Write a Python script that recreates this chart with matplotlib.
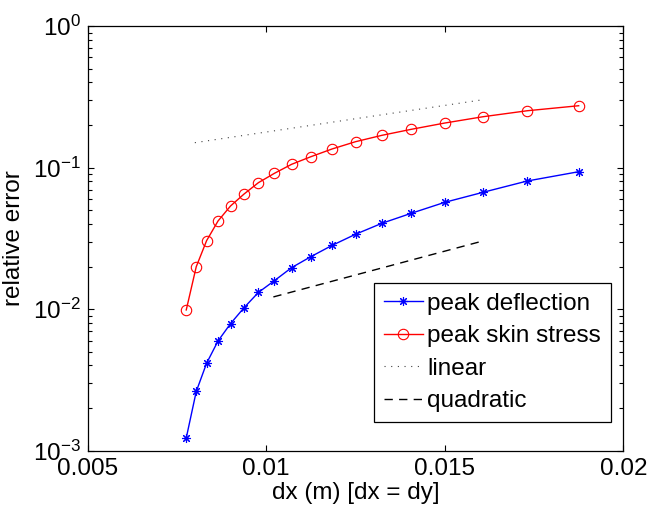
import matplotlib
matplotlib.use("Agg")
import matplotlib.pyplot as plt
from matplotlib.ticker import LogLocator, FixedLocator

plt.rcParams["font.family"] = ["Liberation Sans", "DejaVu Sans"]
plt.rcParams["mathtext.fontset"] = "custom"
plt.rcParams["mathtext.rm"] = "Liberation Sans"
plt.rcParams["mathtext.it"] = "Liberation Sans:italic"
plt.rcParams["font.size"] = 17.5

# grid spacing (dx = dy) for each run
dx = [0.00776, 0.00804, 0.00833, 0.00865, 0.00900, 0.00938, 0.00978,
      0.01023, 0.01071, 0.01125, 0.01184, 0.01250, 0.01324, 0.01406,
      0.01500, 0.01607, 0.01731, 0.01875]

# relative error of peak deflection
err_deflection = [0.00123, 0.00262, 0.00415, 0.00596, 0.00790, 0.01025,
                  0.01312, 0.01590, 0.01964, 0.02349, 0.02818, 0.03381,
                  0.04043, 0.04756, 0.05686, 0.06690, 0.08043, 0.09354]

# relative error of peak skin stress
err_stress = [0.00987, 0.01995, 0.03047, 0.04196, 0.05356, 0.06511,
              0.07824, 0.09115, 0.1055, 0.1194, 0.1353, 0.1524,
              0.1691, 0.1864, 0.2065, 0.2288, 0.2522, 0.2736]

# reference slopes
linear_x = [0.008, 0.016]
linear_y = [0.15, 0.30]
quad_x = [0.0102, 0.016]
quad_y = [0.0122, 0.0300]

fig = plt.figure(figsize=(6.52, 5.11), dpi=100)
ax = fig.add_axes([0.1345, 0.118, 0.8215, 0.831])

ax.plot(dx, err_deflection, color="b", lw=1.0, marker=(8, 2, 0),
        markersize=6.5, markeredgewidth=0.8, label="peak deflection")
ax.plot(dx, err_stress, color="r", lw=1.0, marker="o", markersize=7.5,
        markerfacecolor="none", markeredgewidth=0.8, label="peak skin stress")
ax.plot(linear_x, linear_y, color="0.25", lw=0.8, linestyle=(0, (1, 5)),
        label="linear")
ax.plot(quad_x, quad_y, color="k", lw=1.0, linestyle=(0, (6, 4.5)),
        label="quadratic")

ax.set_yscale("log")
ax.set_xlim(0.005, 0.02)
ax.set_ylim(1e-3, 1e0)
ax.xaxis.set_major_locator(FixedLocator([0.005, 0.01, 0.015, 0.02]))
ax.set_xticklabels(["0.005", "0.01", "0.015", "0.02"])
ax.yaxis.set_major_locator(LogLocator(base=10, numticks=10))
ax.yaxis.set_minor_locator(LogLocator(base=10, subs=range(2, 10), numticks=10))

ax.tick_params(which="both", direction="in", top=True, right=True, width=0.8)
ax.tick_params(which="major", length=4.5, pad=5)
ax.tick_params(which="minor", length=3)
for s in ax.spines.values():
    s.set_linewidth(0.9)

ax.set_xlabel("dx (m) [dx = dy]", labelpad=2)
ax.set_ylabel("relative error", labelpad=6)

leg = ax.legend(loc="upper left", bbox_to_anchor=(374 / 652, 1 - 283 / 511),
                bbox_transform=fig.transFigure, numpoints=1, fancybox=False,
                framealpha=1, edgecolor="k", borderpad=0.4, labelspacing=0.43,
                handlelength=1.6, handletextpad=0.2, borderaxespad=0)
leg.get_frame().set_linewidth(0.9)

fig.savefig("out.png", dpi=100)
